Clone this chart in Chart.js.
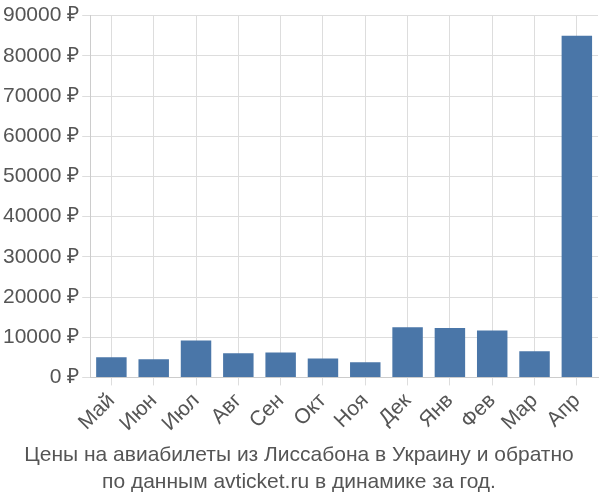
<!DOCTYPE html>
<html>
<head>
<meta charset="utf-8">
<script src="https://cdn.jsdelivr.net/npm/chart.js@4/dist/chart.umd.min.js"></script>
<style>
  html, body { margin: 0; padding: 0; background: #fff; }
  #wrap { width: 600px; height: 500px; }
</style>
</head>
<body>
<div id="wrap"><canvas id="chart"></canvas></div>
<script>
// данные графика
const months = ['Май', 'Июн', 'Июл', 'Авг', 'Сен', 'Окт', 'Ноя', 'Дек', 'Янв', 'Фев', 'Мар', 'Апр'];
const prices = [5000, 4500, 9200, 6000, 6200, 4700, 3800, 12500, 12300, 11700, 6500, 85000];
const titleLines = ['Цены на авиабилеты из Лиссабона в Украину и обратно', 'по данным avticket.ru в динамике за год.'];

const ctx = document.getElementById('chart').getContext('2d');
new Chart(ctx, {
    type: 'bar',
    data: {
        labels: months,
        datasets: [{
            data: prices,
            backgroundColor: '#4a76a8',
            categoryPercentage: 0.72,
            barPercentage: 1
        }]
    },
    options: {
        responsive: true,
        maintainAspectRatio: false,
        animation: false,
        layout: { padding: { left: 0, right: 2, top: 4 } },
        plugins: {
            legend: { display: false },
            tooltip: { enabled: false },
            title: {
                display: true,
                position: 'bottom',
                text: titleLines,
                color: '#555',
                font: { family: 'Liberation Sans', size: 21, weight: 'normal', lineHeight: 1.3 },
                padding: { top: 2, bottom: 4 }
            }
        },
        scales: {
            x: {
                grid: { color: '#ddd', offset: false },
                border: { color: '#ccc' },
                ticks: {
                    color: '#555',
                    font: { family: 'Liberation Sans', size: 21 },
                    maxRotation: 45,
                    minRotation: 45
                }
            },
            y: {
                min: 0,
                max: 90000,
                grid: { color: '#ddd' },
                border: { color: '#ccc' },
                ticks: {
                    stepSize: 10000,
                    color: '#555',
                    font: { family: 'Liberation Sans', size: 21 },
                    callback: v => v + ' ₽'
                }
            }
        }
    }
});
</script>
</body>
</html>
